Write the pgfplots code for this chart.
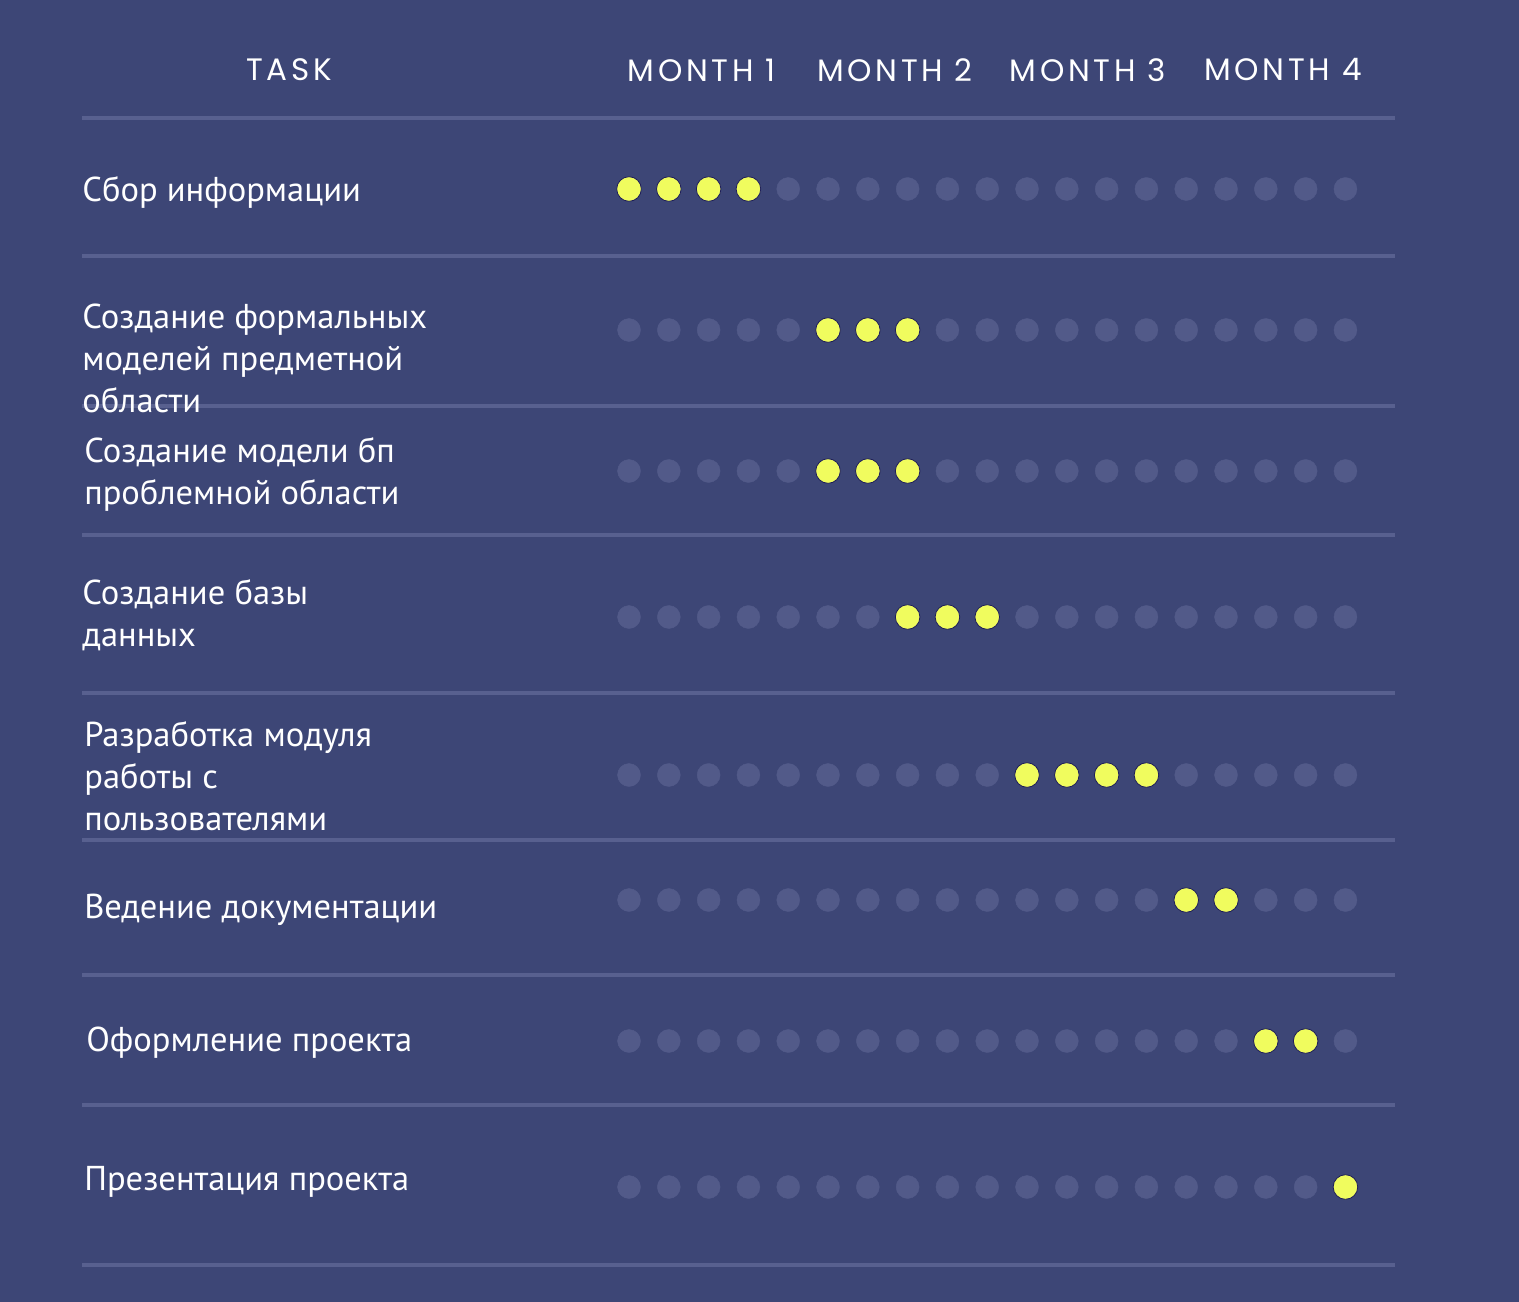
\documentclass[border=0pt]{standalone}
\usepackage{pgfplots}
\pgfplotsset{compat=1.18}
\usepackage{fontspec}
\setmainfont{PT Sans}
\newfontfamily\hdr{Poppins}[LetterSpace=12]
\definecolor{bg}{RGB}{61,70,118}
\definecolor{dotgrey}{RGB}{82,90,137}
\definecolor{yel}{RGB}{240,252,94}
\definecolor{sep}{RGB}{88,96,143}
\definecolor{edge}{RGB}{30,30,90}
\begin{document}
\begin{tikzpicture}
\fill[bg] (0,0) rectangle (1519pt,1302pt);
\begin{axis}[at={(0,0)}, anchor=south west, scale only axis, width=1519pt, height=1302pt,
  xmin=-15.8040, xmax=22.3618, ymin=0, ymax=1302, y dir=reverse, hide axis, clip=false]
% separators
\foreach \yy in {118,256,406,535,693,840,975,1105,1265}{
  \edef\tmp{\noexpand\draw[sep, line width=4.5pt] (axis cs:-13.74,\yy) -- (axis cs:19.25,\yy);}\tmp
}
% grey dots
\addplot[only marks, mark=*, mark size=11.5pt, color=dotgrey, mark options={draw=none, fill=dotgrey}] coordinates {
(4,189)(5,189)(6,189)(7,189)(8,189)(9,189)(10,189)(11,189)(12,189)(13,189)(14,189)(15,189)(16,189)(17,189)(18,189)
(0,330)(1,330)(2,330)(3,330)(4,330)(8,330)(9,330)(10,330)(11,330)(12,330)(13,330)(14,330)(15,330)(16,330)(17,330)(18,330)
(0,471)(1,471)(2,471)(3,471)(4,471)(8,471)(9,471)(10,471)(11,471)(12,471)(13,471)(14,471)(15,471)(16,471)(17,471)(18,471)
(0,617)(1,617)(2,617)(3,617)(4,617)(5,617)(6,617)(10,617)(11,617)(12,617)(13,617)(14,617)(15,617)(16,617)(17,617)(18,617)
(0,775)(1,775)(2,775)(3,775)(4,775)(5,775)(6,775)(7,775)(8,775)(9,775)(14,775)(15,775)(16,775)(17,775)(18,775)
(0,900)(1,900)(2,900)(3,900)(4,900)(5,900)(6,900)(7,900)(8,900)(9,900)(10,900)(11,900)(12,900)(13,900)(16,900)(17,900)(18,900)
(0,1041)(1,1041)(2,1041)(3,1041)(4,1041)(5,1041)(6,1041)(7,1041)(8,1041)(9,1041)(10,1041)(11,1041)(12,1041)(13,1041)(14,1041)(15,1041)(18,1041)
(0,1187)(1,1187)(2,1187)(3,1187)(4,1187)(5,1187)(6,1187)(7,1187)(8,1187)(9,1187)(10,1187)(11,1187)(12,1187)(13,1187)(14,1187)(15,1187)(16,1187)(17,1187)
};
% yellow dots
\addplot[only marks, mark=*, mark size=12.3pt, color=yel, mark options={draw=edge, line width=0.8pt, fill=yel}] coordinates {
(0,189)(1,189)(2,189)(3,189)
(5,330)(6,330)(7,330)
(5,471)(6,471)(7,471)
(7,617)(8,617)(9,617)
(10,775)(11,775)(12,775)(13,775)
(14,900)(15,900)
(16,1041)(17,1041)
(18,1187)
};
% header
\tikzset{hd/.style={text=white, inner sep=0pt, font=\hdr\fontsize{31}{36}\selectfont}}
\node[hd] at (axis cs:-8.54,70) {TASK};
\node[hd] at (axis cs:1.83,70) {MONTH 1};
\node[hd] at (axis cs:6.68,70) {MONTH 2};
\node[hd] at (axis cs:11.53,70) {MONTH 3};
\node[hd] at (axis cs:16.43,70) {MONTH 4};
% task labels
\tikzset{lab/.style={anchor=west, align=left, text=white, inner sep=0pt, font=\fontsize{34.5}{42}\selectfont}}
\node[lab] at (axis cs:-13.74,192) {Сбор информации};
\node[lab] at (axis cs:-13.74,358) {Создание формальных\\моделей предметной\\области};
\node[lab] at (axis cs:-13.69,474) {Создание модели бп\\проблемной области};
\node[lab] at (axis cs:-13.74,615) {Создание базы\\данных};
\node[lab] at (axis cs:-13.69,776) {Разработка модуля\\работы с\\пользователями};
\node[lab] at (axis cs:-13.69,910) {Ведение документации};
\node[lab] at (axis cs:-13.64,1043) {Оформление проекта};
\node[lab] at (axis cs:-13.69,1182) {Презентация проекта};
\end{axis}
\end{tikzpicture}
\end{document}
